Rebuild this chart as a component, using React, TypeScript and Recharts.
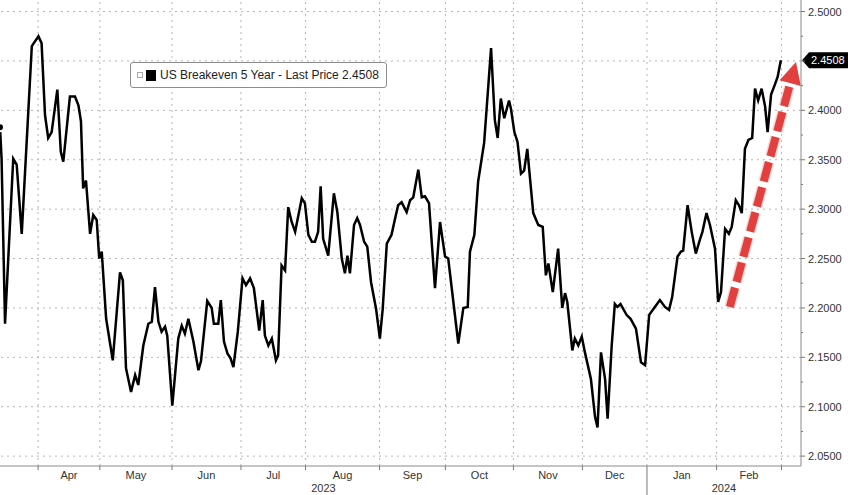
import React from 'react';
import { LineChart, Line, XAxis, YAxis, ReferenceLine, Legend } from 'recharts';

const FONT = '"Liberation Sans", Arial, sans-serif';

// x = business-day index starting mid-March 2023
const DAYS = [
  0, 0.5, 1.6, 4.2, 5.3, 6.9, 10.1, 12.2, 13.2, 14.3, 15.3, 16.4, 18.2, 19.3, 20.1, 22.2, 23.8, 24.9,
  25.7, 26.4, 27.3, 28.6, 29.6, 30.7, 31.5, 32.3, 33.7, 35.8, 38.1, 39.0, 40.0, 41.6, 42.9, 43.9,
  45.5, 47.1, 48.2, 49.2, 50.3, 51.3, 52.4, 53.1, 54.7, 56.6, 57.7, 58.7, 59.8, 61.4, 63.0, 63.8,
  65.8, 67.2, 67.9, 69.3, 70.1, 71.1, 72.2, 73.2, 74.1, 75.5, 77.0, 78.1, 79.4, 80.6, 82.3, 83.4,
  84.1, 85.2, 86.3, 87.6, 88.3, 89.4, 90.5, 91.5, 92.6, 93.7, 95.8, 96.8, 97.9, 99.0, 100.0, 101.0,
  101.8, 102.6, 104.2, 106.0, 107.1, 108.5, 109.5, 110.3, 111.1, 112.4, 113.4, 114.3, 115.6, 116.6,
  117.8, 119.4, 120.6, 121.5, 122.8, 124.3, 125.4, 126.4, 127.5, 129.1, 130.2, 131.2, 132.8, 133.9,
  134.9, 136.2, 138.1, 139.7, 141.3, 142.3, 145.5, 147.1, 148.5, 149.2, 150.6, 151.8, 153.7, 155.9,
  157.1, 158.0, 159.0, 160.1, 161.6, 162.2, 163.3, 164.3, 165.4, 166.4, 167.4, 168.3, 169.3, 170.9,
  172.3, 173.3, 174.1, 175.5, 177.2, 178.5, 179.4, 180.1, 181.7, 182.5, 183.6, 184.7, 185.7, 187.6,
  188.9, 189.7, 190.8, 192.1, 192.9, 194.2, 195.2, 196.0, 197.0, 198.9, 200.2, 201.9, 203.5, 204.8,
  206.1, 207.9, 209.5, 211.1, 212.4, 213.4, 215.1, 216.2, 216.9, 218.3, 219.6, 220.9, 222.2, 223.0,
  224.3, 225.4, 227.0, 228.0, 228.9, 230.2, 231.4, 232.3, 233.6, 234.6, 235.5, 236.5, 237.6, 238.8,
  239.7, 240.7, 241.8, 242.9, 243.7, 244.8, 246.0, 246.9, 247.9,
];

const BEI_5Y = [
  2.383, 2.351, 2.184, 2.351, 2.345, 2.275, 2.465, 2.475, 2.468, 2.395, 2.372, 2.378, 2.421, 2.358, 2.348, 2.414, 2.414, 2.405,
  2.389, 2.321, 2.329, 2.275, 2.294, 2.289, 2.25, 2.257, 2.189, 2.147, 2.236, 2.228, 2.139, 2.115, 2.132, 2.122,
  2.162, 2.184, 2.186, 2.221, 2.186, 2.176, 2.181, 2.172, 2.101, 2.169, 2.182, 2.174, 2.189, 2.166, 2.137, 2.146,
  2.207, 2.2, 2.184, 2.184, 2.208, 2.166, 2.154, 2.149, 2.14, 2.176, 2.23, 2.223, 2.23, 2.22, 2.177, 2.208,
  2.172, 2.162, 2.169, 2.147, 2.152, 2.243, 2.238, 2.302, 2.287, 2.277, 2.311, 2.306, 2.274, 2.267, 2.267, 2.277,
  2.323, 2.27, 2.253, 2.316, 2.297, 2.25, 2.235, 2.253, 2.235, 2.284, 2.291, 2.284, 2.267, 2.262,
  2.226, 2.199, 2.169, 2.199, 2.265, 2.274, 2.29, 2.304, 2.307, 2.297, 2.309, 2.312, 2.34, 2.312,
  2.313, 2.306, 2.22, 2.287, 2.252, 2.25, 2.164, 2.2, 2.201, 2.257, 2.274, 2.328, 2.367, 2.463,
  2.39, 2.372, 2.412, 2.392, 2.41, 2.402, 2.378, 2.368, 2.336, 2.339, 2.361, 2.33, 2.296, 2.284,
  2.282, 2.233, 2.245, 2.216, 2.26, 2.2, 2.215, 2.206, 2.157, 2.169, 2.162, 2.171, 2.155, 2.128,
  2.09, 2.079, 2.155, 2.128, 2.088, 2.162, 2.204, 2.201, 2.204, 2.193, 2.189, 2.179, 2.145, 2.142,
  2.193, 2.201, 2.208, 2.201, 2.198, 2.211, 2.252, 2.257, 2.258, 2.304, 2.277, 2.255, 2.269, 2.277,
  2.296, 2.284, 2.26, 2.206, 2.216, 2.28, 2.275, 2.282, 2.309, 2.304, 2.296, 2.361, 2.37, 2.372,
  2.422, 2.41, 2.422, 2.404, 2.378, 2.416, 2.426, 2.434, 2.4508,
];

const LAST_PRICE = 2.4508;
const SERIES_NAME = 'US Breakeven 5 Year - Last Price';

// month boundaries (business-day index) and labels
const MONTH_STARTS = [12.1, 31.7, 54.6, 76.5, 97.0, 120.5, 141.4, 163.0, 184.9, 205.4, 227.5, 248.1];
const MONTH_LABELS = ['Apr', 'May', 'Jun', 'Jul', 'Aug', 'Sep', 'Oct', 'Nov', 'Dec', 'Jan', 'Feb'];
const YEAR_BREAKS = [205.4];
const YEAR_LABELS = ['2023', '2024'];
const X_MAX = 254.3;

const Y_MAJOR = [2.05, 2.1, 2.15, 2.2, 2.25, 2.3, 2.35, 2.4, 2.45, 2.5];
const Y_MINOR = [2.075, 2.125, 2.175, 2.225, 2.275, 2.325, 2.375, 2.425, 2.475];

// red dashed arrow drawn on the chart
const ARROW = [{ x: 231.7, y: 2.201 }, { x: 252.7, y: 2.449 }];

const data = DAYS.map((d, i) => ({ day: d, value: BEI_5Y[i] }));

const MONTH_MIDS = MONTH_LABELS.map((_, i) => (MONTH_STARTS[i] + MONTH_STARTS[i + 1]) / 2);
const yearEdges = [0, ...YEAR_BREAKS, X_MAX];
const YEAR_MIDS = YEAR_LABELS.map((_, i) => (yearEdges[i] + yearEdges[i + 1]) / 2);
const X_TICKS = [...MONTH_STARTS, ...MONTH_MIDS, ...YEAR_MIDS].sort((a, b) => a - b);
const Y_TICKS = [...Y_MAJOR, ...Y_MINOR].sort((a, b) => a - b);

const XTick = (props: any) => {
  const { x, y, payload } = props;
  const v = payload.value;
  const mi = MONTH_MIDS.indexOf(v);
  if (mi >= 0) {
    return (
      <text x={x} y={y + 13} textAnchor="middle" fontSize={11} fontFamily={FONT} fill="#333">
        {MONTH_LABELS[mi]}
      </text>
    );
  }
  const yi = YEAR_MIDS.indexOf(v);
  if (yi >= 0) {
    return (
      <text x={x} y={y + 26} textAnchor="middle" fontSize={11} fontFamily={FONT} fill="#333">
        {YEAR_LABELS[yi]}
      </text>
    );
  }
  const isYear = YEAR_BREAKS.includes(v);
  return <line x1={x} x2={x} y1={y} y2={isYear ? y + 29 : y + 4} stroke="#777" strokeWidth={1} />;
};

const YTick = (props: any) => {
  const { x, y, payload } = props;
  const v = payload.value;
  const major = Y_MAJOR.includes(v);
  // the last-price tag covers the label next to it
  const hidden = Math.abs(v - LAST_PRICE) < 0.01;
  return (
    <g>
      <line x1={x} x2={x + (major ? 4 : 2)} y1={y} y2={y} stroke="#777" />
      {major && !hidden && (
        <text x={x + 7} y={y} dy={4} fontSize={11} fontFamily={FONT} fill="#333">
          {v.toFixed(4)}
        </text>
      )}
    </g>
  );
};

const PriceTag = (props: any) => {
  const { x1, x2, y1 } = props;
  const xr = Math.max(x1, x2);
  const y = y1;
  const pts = `${xr + 1},${y} ${xr + 8},${y - 8} ${xr + 47},${y - 8} ${xr + 47},${y + 8} ${xr + 8},${y + 8}`;
  return (
    <g>
      <polygon points={pts} fill="#000" />
      <text x={xr + 10} y={y} dy={4} fontSize={11} fontFamily={FONT} fill="#fff">
        {LAST_PRICE.toFixed(4)}
      </text>
    </g>
  );
};

const Arrow = (props: any) => {
  const { x1, y1, x2, y2 } = props;
  const dx = x2 - x1;
  const dy = y2 - y1;
  const len = Math.hypot(dx, dy);
  const ux = dx / len;
  const uy = dy / len;
  const head = 22;
  const half = 11;
  const bx = x2 - ux * head;
  const by = y2 - uy * head;
  return (
    <g>
      <line x1={x1} y1={y1} x2={bx} y2={by} stroke="#f3b5b3" strokeWidth={11} strokeDasharray="20 6" opacity={0.5} />
      <line x1={x1} y1={y1} x2={bx} y2={by} stroke="#e2403f" strokeWidth={8} strokeDasharray="20 6" />
      <polygon
        points={`${x2},${y2} ${bx - uy * half},${by + ux * half} ${bx + uy * half},${by - ux * half}`}
        fill="#e2403f"
      />
    </g>
  );
};

const LegendBox = () => (
  <div
    style={{
      display: 'inline-flex',
      alignItems: 'center',
      border: '1px solid #8c8c8c',
      borderRadius: 3,
      background: '#fff',
      height: 24,
      padding: '0 7px 0 6px',
      fontSize: 12,
      fontFamily: FONT,
      color: '#222',
      whiteSpace: 'nowrap',
    }}
  >
    <span style={{ width: 4, height: 4, border: '1px solid #aaa', marginRight: 3 }} />
    <span style={{ width: 10, height: 11, background: '#000', marginRight: 4 }} />
    <span>
      {SERIES_NAME} {LAST_PRICE.toFixed(4)}
    </span>
  </div>
);

export default function App() {
  return (
    <div style={{ width: 848, height: 495, background: '#fff' }}>
      <style>{'body{margin:0}'}</style>
      <LineChart width={848} height={495} data={data} margin={{ top: 0, right: 0, bottom: 0, left: 0 }}>
        <XAxis
          dataKey="day"
          type="number"
          domain={[0, X_MAX]}
          ticks={X_TICKS}
          interval={0}
          tickLine={false}
          tickSize={0}
          tickMargin={0}
          height={29}
          axisLine={{ stroke: '#8a8a8a' }}
          tick={<XTick />}
          allowDataOverflow
        />
        <YAxis
          orientation="right"
          type="number"
          domain={[2.04, 2.5117]}
          ticks={Y_TICKS}
          interval={0}
          tickLine={false}
          tickSize={0}
          tickMargin={0}
          width={47}
          axisLine={{ stroke: '#8a8a8a' }}
          tick={<YTick />}
          allowDataOverflow
        />
        {Y_MAJOR.map((v) => (
          <ReferenceLine key={`h${v}`} y={v} stroke="#b5b5b5" strokeDasharray="2 4" />
        ))}
        {MONTH_STARTS.map((v) => (
          <ReferenceLine key={`v${v}`} x={v} stroke="#b5b5b5" strokeDasharray="2 4" />
        ))}
        <Legend
          layout="vertical"
          align="center"
          verticalAlign="middle"
          wrapperStyle={{ top: 62, left: 130, width: 'auto' }}
          content={<LegendBox />}
        />
        <Line
          type="linear"
          dataKey="value"
          stroke="#000"
          strokeWidth={2.5}
          dot={false}
          isAnimationActive={false}
        />
        <ReferenceLine segment={ARROW} shape={(p: any) => <Arrow {...p} />} />
        <ReferenceLine y={LAST_PRICE} shape={(p: any) => <PriceTag {...p} />} />
      </LineChart>
    </div>
  );
}
